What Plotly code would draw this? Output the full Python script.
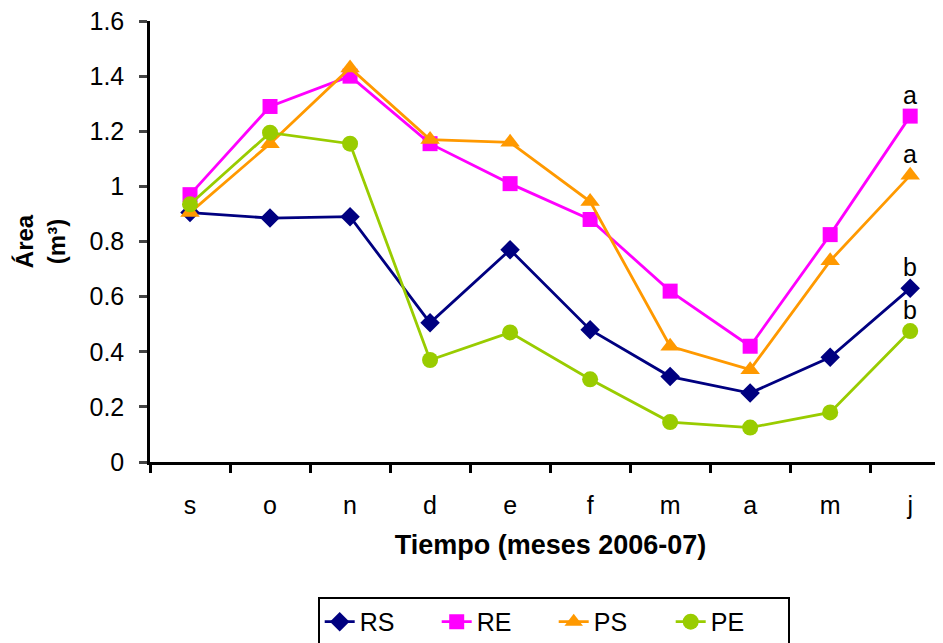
import plotly.graph_objects as go

months = ["s", "o", "n", "d", "e", "f", "m", "a", "m", "j"]
RS = [0.905, 0.885, 0.89, 0.505, 0.77, 0.48, 0.31, 0.25, 0.38, 0.63]
RE = [0.97, 1.29, 1.40, 1.155, 1.01, 0.88, 0.62, 0.42, 0.825, 1.255]
PS = [0.905, 1.155, 1.43, 1.17, 1.16, 0.945, 0.42, 0.335, 0.73, 1.04]
PE = [0.935, 1.195, 1.155, 0.37, 0.47, 0.30, 0.145, 0.125, 0.18, 0.475]
letters = {"RE": "a", "PS": "a", "RS": "b", "PE": "b"}
y_ticks = [0, 0.2, 0.4, 0.6, 0.8, 1, 1.2, 1.4, 1.6]
y_tick_text = ["0", "0.2", "0.4", "0.6", "0.8", "1", "1.2", "1.4", "1.6"]

x = list(range(len(months)))
series = [
    ("RS", RS, "#000080", "diamond", 15),
    ("RE", RE, "#FF00FF", "square", 15),
    ("PS", PS, "#FF9900", "triangle-up", 17),
    ("PE", PE, "#99CC00", "circle", 16),
]

FONT = "Liberation Sans, Arial, sans-serif"

fig = go.Figure()
for name, vals, color, sym, size in series:
    fig.add_trace(go.Scatter(
        x=x, y=vals, name=name, mode="lines+markers",
        line=dict(color=color, width=2.8),
        marker=dict(symbol=sym, size=size, color=color),
    ))
    fig.add_annotation(x=x[-1], y=vals[-1], text=letters[name], showarrow=False,
                       yshift=21, font=dict(size=25, color="black", family=FONT))

fig.update_layout(
    width=943, height=643,
    margin=dict(l=142, r=0, t=13, b=189),
    plot_bgcolor="white", paper_bgcolor="white",
    font=dict(family=FONT, size=25, color="black"),
    showlegend=True,
    legend=dict(orientation="h", x=0.504, xanchor="center", y=-0.306, yanchor="top",
                bordercolor="black", borderwidth=2, font=dict(size=25),
                entrywidth=72, entrywidthmode="pixels", tracegroupgap=0),
)
fig.update_xaxes(
    range=[-0.5, 9.51], tickvals=x, ticktext=months, ticks="", ticklen=0,
    ticklabelstandoff=19, automargin=False,
    showline=True, linecolor="black", linewidth=2.5, showgrid=False, zeroline=False,
    minor=dict(tick0=-0.5, dtick=1, ticks="outside", ticklen=8, tickwidth=2.5, tickcolor="black", showgrid=False),
    title=dict(text="<b>Tiempo (meses 2006-07)</b>", standoff=18, font=dict(size=27)),
    tickfont=dict(size=25),
)
fig.update_yaxes(
    range=[0, 1.6001], tickvals=y_ticks, ticktext=y_tick_text, ticks="outside", ticklen=8, tickwidth=2.5,
    ticklabelstandoff=10, ticklabeloverflow="allow", automargin=False,
    showline=True, linecolor="black", linewidth=2.5, showgrid=False, zeroline=False,
    tickfont=dict(size=25),
    title=dict(text="<b>Área<br>(m³)</b>", standoff=18, font=dict(size=24)),
)
fig.write_html("out.html")
